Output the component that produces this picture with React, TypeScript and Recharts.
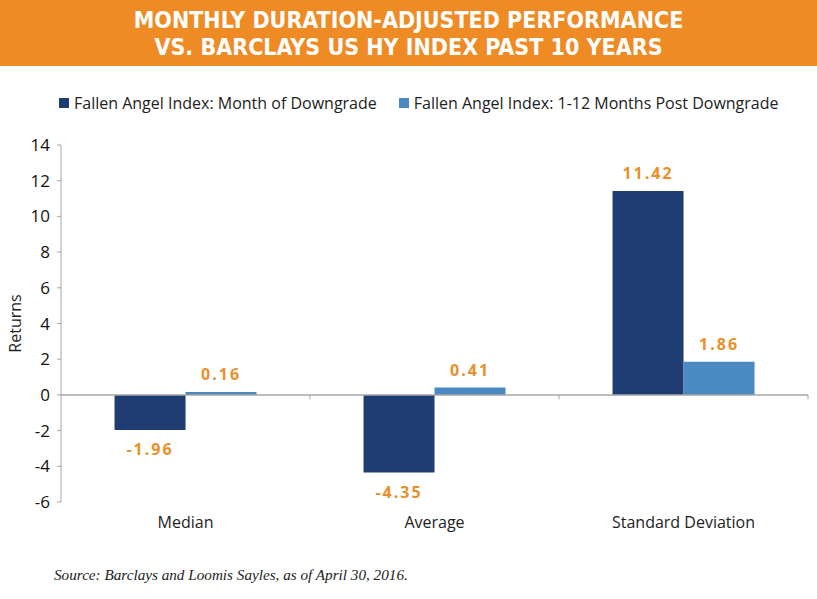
import React from 'react';
import { BarChart, Bar, XAxis, YAxis, ReferenceLine, LabelList } from 'recharts';

const categories = ['Median', 'Average', 'Standard Deviation'];
const monthOfDowngrade = [-1.96, -4.35, 11.42];
const postDowngrade = [0.16, 0.41, 1.86];
const yTicks = [-6, -4, -2, 0, 2, 4, 6, 8, 10, 12, 14];

const seriesNames = [
  'Fallen Angel Index: Month of Downgrade',
  'Fallen Angel Index: 1-12 Months Post Downgrade',
];
const DARK = '#1F3C73';
const LIGHT = '#4A89C2';
const ORANGE = '#E8902A';
const GRID = '#A6A6A6';

const data = categories.map((name, i) => ({
  name,
  month: monthOfDowngrade[i],
  post: postDowngrade[i],
}));

// value labels sit above positive bars and below negative ones
const ValueLabel = (props: any) => {
  const { x, y, width, height, value } = props;
  const top = Math.min(y, y + height);
  const bottom = Math.max(y, y + height);
  const cy = value >= 0 ? top - 18 : bottom + 19;
  return (
    <text
      x={x + width / 2}
      y={cy}
      textAnchor="middle"
      dominantBaseline="central"
      fill={ORANGE}
      fontSize={16}
      fontWeight="bold"
      letterSpacing={2}
      fontFamily="'Open Sans', sans-serif"
    >
      {value.toFixed(2)}
    </text>
  );
};

export default function App() {
  return (
    <div
      style={{
        position: 'absolute',
        left: 0,
        top: 0,
        width: 817,
        height: 599,
        background: '#fff',
        fontFamily: "'Open Sans', sans-serif",
        overflow: 'hidden',
      }}
    >
      <div
        style={{
          position: 'absolute',
          left: 0,
          top: 0,
          width: 817,
          height: 66,
          background: '#EF8B25',
          color: '#fff',
          textAlign: 'center',
          fontFamily: "'Liberation Sans Narrow', 'DejaVu Sans Condensed', sans-serif",
          fontWeight: 'bold',
          fontSize: 23,
          lineHeight: '27px',
          paddingTop: 7,
          boxSizing: 'border-box',
        }}
      >
        MONTHLY DURATION-ADJUSTED PERFORMANCE
        <br />
        VS. BARCLAYS US HY INDEX PAST 10 YEARS
      </div>

      <div
        style={{
          position: 'absolute',
          left: 59,
          top: 92,
          display: 'flex',
          alignItems: 'center',
          fontSize: 16,
          color: '#222',
          whiteSpace: 'nowrap',
        }}
      >
        {seriesNames.map((n, i) => (
          <div key={n} style={{ display: 'flex', alignItems: 'center', marginRight: 22 }}>
            <span
              style={{
                display: 'inline-block',
                width: 10,
                height: 10,
                background: i === 0 ? DARK : LIGHT,
                marginRight: 5,
              }}
            />
            <span>{n}</span>
          </div>
        ))}
      </div>

      <div style={{ position: 'absolute', left: 0, top: 0 }}>
        <BarChart
          width={817}
          height={599}
          data={data}
          margin={{ top: 145, right: 9, bottom: 67, left: 0 }}
          barCategoryGap="21.5%"
          barGap={0}
        >
          <XAxis
            dataKey="name"
            axisLine={false}
            tickLine={false}
            height={30}
            tickMargin={9}
            tick={{ fontSize: 16, fill: '#222', fontFamily: "'Open Sans', sans-serif" }}
          />
          <YAxis
            width={61}
            domain={[-6, 14]}
            ticks={yTicks}
            interval={0}
            axisLine={{ stroke: GRID }}
            tickLine={{ stroke: GRID }}
            tickSize={4}
            tickMargin={7}
            tick={{ fontSize: 17, fill: '#111', fontFamily: "'Open Sans', sans-serif" }}
            label={{
              value: 'Returns',
              angle: -90,
              position: 'insideLeft',
              offset: 15,
              style: { textAnchor: 'middle', fontSize: 16, fill: '#222', fontFamily: "'Open Sans', sans-serif" },
            }}
          />
          <ReferenceLine y={0} stroke={GRID} strokeWidth={1.5} />
          {categories.map((c) => (
            <ReferenceLine
              key={c}
              segment={[
                { x: c, y: 0 },
                { x: c, y: -0.25 },
              ]}
              position="end"
              stroke={GRID}
            />
          ))}
          <Bar dataKey="month" name={seriesNames[0]} fill={DARK} isAnimationActive={false}>
            <LabelList dataKey="month" content={<ValueLabel />} />
          </Bar>
          <Bar dataKey="post" name={seriesNames[1]} fill={LIGHT} isAnimationActive={false}>
            <LabelList dataKey="post" content={<ValueLabel />} />
          </Bar>
        </BarChart>
      </div>

      <div
        style={{
          position: 'absolute',
          left: 54,
          top: 566,
          fontFamily: "'Liberation Serif', serif",
          fontStyle: 'italic',
          fontSize: 15.2,
          color: '#222',
        }}
      >
        Source: Barclays and Loomis Sayles, as of April 30, 2016.
      </div>
    </div>
  );
}
